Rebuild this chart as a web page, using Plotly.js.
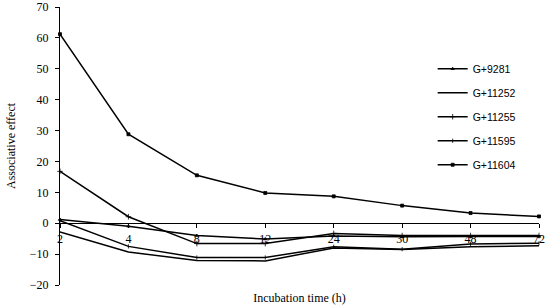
<!DOCTYPE html>
<html>
<head>
<meta charset="utf-8">
<script src="https://cdn.plot.ly/plotly-3.0.1.min.js"></script>
<style>html,body{margin:0;padding:0;background:#fff;}#chart{width:548px;height:305px;}</style>
</head>
<body>
<div id="chart"></div>
<script>
// Incubation times (categories)
const hours = ['2', '4', '8', '12', '24', '30', '48', '72'];
// Associative effect for each combination
const g9281  = [1.2, -1.0, -4.0, -5.1, -4.1, -4.4, -4.3, -4.3];
const g11252 = [-2.8, -9.3, -12.1, -12.2, -8.0, -8.5, -7.6, -7.3];
const g11255 = [16.8, 2.1, -6.6, -6.6, -3.3, -4.0, -4.0, -4.0];
const g11595 = [0.8, -7.5, -11.1, -11.1, -7.6, -8.4, -6.7, -6.5];
const g11604 = [61.2, 28.8, 15.5, 9.8, 8.7, 5.7, 3.3, 2.2];
const names = ['G+9281', 'G+11252', 'G+11255', 'G+11595', 'G+11604'];

const seriesList = [g9281, g11252, g11255, g11595, g11604];
const markerStyles = [
  {symbol: 'triangle-up', size: 3, mode: 'lines+markers'},
  {symbol: 'circle', size: 0, mode: 'lines'},
  {symbol: 'cross-thin', size: 4, mode: 'lines+markers'},
  {symbol: 'line-ns', size: 3, mode: 'lines+markers'},
  {symbol: 'square', size: 3, mode: 'lines+markers'}
];

const traces = seriesList.map((vals, i) => ({
  x: hours,
  y: vals,
  name: names[i],
  legendgroup: names[i],
  type: 'scatter',
  mode: markerStyles[i].mode,
  cliponaxis: false,
  line: {color: '#000', width: 1.5},
  marker: {symbol: markerStyles[i].symbol, size: markerStyles[i].size, color: '#000',
           line: {color: '#000', width: 0.8}}
}));

const serif = "'Liberation Serif', 'Times New Roman', serif";
const layout = {
  width: 548, height: 305,
  margin: {l: 60, r: 9, t: 7, b: 20},
  paper_bgcolor: '#fff', plot_bgcolor: '#fff',
  font: {family: serif, size: 12, color: '#000'},
  showlegend: true,
  legend: {
    x: 0.778, y: 0.83, xanchor: 'left', yanchor: 'top',
    font: {family: "'Liberation Sans', Arial, sans-serif", size: 10.5, color: '#000'},
    tracegroupgap: 5,
    itemwidth: 30,
    bgcolor: 'rgba(0,0,0,0)'
  },
  xaxis: {
    type: 'category',
    range: [0, 7],
    anchor: 'free', position: 20 / 90,
    showline: true, linecolor: '#000', linewidth: 1,
    ticks: 'outside', ticklen: 4, tickcolor: '#000',
    showgrid: false, zeroline: false,
    tickfont: {family: serif, size: 12, color: '#000'},
    title: {text: 'Incubation time (h)', font: {family: serif, size: 12, color: '#000'}, standoff: 48}
  },
  yaxis: {
    range: [-20, 70], dtick: 10,
    showline: true, linecolor: '#000', linewidth: 1,
    ticks: 'outside', ticklen: 4, tickcolor: '#000',
    showgrid: false, zeroline: false,
    ticklabelstandoff: 4,
    tickfont: {family: serif, size: 12, color: '#000'},
    title: {text: 'Associative effect', font: {family: serif, size: 12, color: '#000'}, standoff: 11}
  }
};

Plotly.newPlot('chart', traces, layout, {displayModeBar: false, staticPlot: true});
</script>
</body>
</html>
